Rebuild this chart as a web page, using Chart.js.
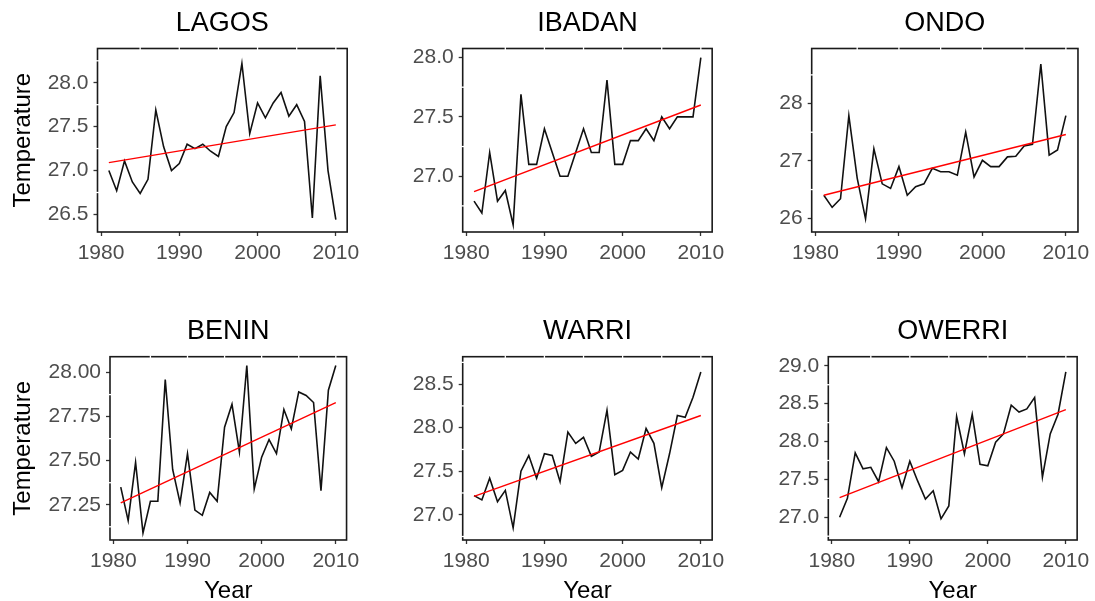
<!DOCTYPE html>
<html><head><meta charset="utf-8">
<script src="https://cdn.jsdelivr.net/npm/chart.js@4.4.1/dist/chart.umd.min.js"></script>
<style>
html,body{margin:0;padding:0;background:#fff;overflow:hidden;width:1095px;height:601px;position:relative}
canvas{position:absolute}
</style></head><body>
<canvas id="c0"></canvas><canvas id="c1"></canvas><canvas id="c2"></canvas>
<canvas id="c3"></canvas><canvas id="c4"></canvas><canvas id="c5"></canvas>
<script>
// ---------------- DATA ----------------
const years = [1981,1982,1983,1984,1985,1986,1987,1988,1989,1990,1991,1992,1993,1994,1995,1996,1997,1998,1999,2000,2001,2002,2003,2004,2005,2006,2007,2008,2009,2010];

const lagos  = [27.00,26.77,27.11,26.87,26.74,26.90,27.69,27.27,27.00,27.08,27.30,27.25,27.30,27.22,27.16,27.50,27.66,28.22,27.42,27.77,27.60,27.77,27.89,27.62,27.75,27.56,26.46,28.08,27.00,26.44];
const ibadan = [26.79,26.69,27.20,26.79,26.88,26.59,27.69,27.10,27.10,27.40,27.20,27.00,27.00,27.20,27.40,27.20,27.20,27.81,27.10,27.10,27.30,27.30,27.40,27.30,27.50,27.40,27.50,27.50,27.50,28.00];
const ondo   = [26.40,26.19,26.34,27.79,26.70,25.99,27.21,26.60,26.52,26.90,26.40,26.55,26.60,26.87,26.81,26.81,26.75,27.50,26.72,27.01,26.90,26.90,27.07,27.08,27.26,27.29,28.69,27.10,27.19,27.79];
const benin  = [27.35,27.16,27.49,27.09,27.27,27.27,27.96,27.45,27.26,27.54,27.22,27.19,27.32,27.27,27.69,27.82,27.55,28.04,27.34,27.52,27.62,27.54,27.79,27.68,27.89,27.87,27.83,27.33,27.90,28.04];
const warri  = [27.22,27.17,27.42,27.15,27.28,26.85,27.50,27.68,27.42,27.70,27.68,27.38,27.95,27.82,27.89,27.67,27.72,28.20,27.46,27.51,27.72,27.64,27.99,27.82,27.31,27.70,28.14,28.12,28.35,28.64];
const owerri = [27.00,27.25,27.85,27.64,27.66,27.47,27.92,27.74,27.39,27.74,27.48,27.24,27.35,26.98,27.15,28.33,27.84,28.36,27.70,27.68,27.99,28.10,28.48,28.39,28.43,28.58,27.53,28.10,28.36,28.92];

// linear trend lines: [value at first year, value at last year]
const trendLagos  = [27.09, 27.52];
const trendIbadan = [26.87, 27.60];
const trendOndo   = [26.40, 27.46];
const trendBenin  = [27.26, 27.83];
const trendWarri  = [27.21, 28.14];
const trendOwerri = [27.26, 28.42];

// tick values and labels
const xTicks = [1980, 1990, 2000, 2010];
const xTickLabels = ['1980', '1990', '2000', '2010'];
const lagosTicks  = [26.5, 27.0, 27.5, 28.0];   const lagosLabels  = ['26.5','27.0','27.5','28.0'];
const ibadanTicks = [27.0, 27.5, 28.0];         const ibadanLabels = ['27.0','27.5','28.0'];
const ondoTicks   = [26, 27, 28];               const ondoLabels   = ['26','27','28'];
const beninTicks  = [27.25, 27.50, 27.75, 28.00]; const beninLabels = ['27.25','27.50','27.75','28.00'];
const warriTicks  = [27.0, 27.5, 28.0, 28.5];   const warriLabels  = ['27.0','27.5','28.0','28.5'];
const owerriTicks = [27.0, 27.5, 28.0, 28.5, 29.0]; const owerriLabels = ['27.0','27.5','28.0','28.5','29.0'];

const stations = ['LAGOS','IBADAN','ONDO','BENIN','WARRI','OWERRI'];
const yTitle = 'Temperature';
const xTitle = 'Year';

// ---------------- LAYOUT ----------------
Chart.defaults.font.family = '"Liberation Sans", Arial, sans-serif';
const colStart = [0, 365, 730];
const rowTop = [0, 295];
const rowH = [290, 315];
const panels = [
  {vals: lagos,  trend: trendLagos,  yt: lagosTicks,  yl: lagosLabels,  ymin: 26.30, ymax: 28.39, L: 97.5,  R: 348.3, T: 48.5,  B: 232,   col: 0, row: 0},
  {vals: ibadan, trend: trendIbadan, yt: ibadanTicks, yl: ibadanLabels, ymin: 26.53, ymax: 28.076, L: 462.7, R: 713.3, T: 48.5, B: 232,   col: 1, row: 0},
  {vals: ondo,   trend: trendOndo,   yt: ondoTicks,   yl: ondoLabels,   ymin: 25.76, ymax: 28.96, L: 811.7, R: 1078.3, T: 48.5,  B: 232,   col: 2, row: 0},
  {vals: benin,  trend: trendBenin,  yt: beninTicks,  yl: beninLabels,  ymin: 27.05, ymax: 28.09, L: 110,   R: 348.3, T: 356.7, B: 540,   col: 0, row: 1},
  {vals: warri,  trend: trendWarri,  yt: warriTicks,  yl: warriLabels,  ymin: 26.71, ymax: 28.815, L: 462.7, R: 713.3, T: 356.7, B: 540,  col: 1, row: 1},
  {vals: owerri, trend: trendOwerri, yt: owerriTicks, yl: owerriLabels, ymin: 26.70, ymax: 29.12, L: 828.3, R: 1078.3, T: 356.7, B: 540,  col: 2, row: 1}
];
const titleCenter = [24, 331.5];
const TITLE_SIZE = 27, TICK_SIZE = 21, AXT_SIZE = 24, RPAD = 16;

const framePlugin = {
  id: 'frame',
  afterDatasetsDraw(chart, args, opts) {
    const {ctx, chartArea: a, scales} = chart;
    ctx.save();
    ctx.strokeStyle = '#1a1a1a';
    ctx.lineWidth = 1.6;
    ctx.strokeRect(a.left, a.top, a.right - a.left, a.bottom - a.top);
    ctx.strokeStyle = '#ffffff';
    ctx.lineWidth = 1.3;
    for (let v = 1985; v <= 2010; v += 5) {
      const x = scales.x.getPixelForValue(v);
      ctx.beginPath(); ctx.moveTo(x, a.top - 1.5); ctx.lineTo(x, a.top + 1.5); ctx.stroke();
    }
    const yt = opts.yt, step = yt[1] - yt[0];
    const minors = yt.map(v => v - step / 2).concat([yt[yt.length - 1] + step / 2]);
    minors.forEach(v => {
      if (v <= scales.y.min || v >= scales.y.max) return;
      const y = scales.y.getPixelForValue(v);
      ctx.beginPath(); ctx.moveTo(a.left - 1.5, y); ctx.lineTo(a.left + 1.5, y); ctx.stroke();
    });
    ctx.restore();
  }
};

panels.forEach((p, i) => {
  const cv = document.getElementById('c' + i);
  const left = colStart[p.col], top = rowTop[p.row];
  const W = Math.ceil(p.R + RPAD - left), H = rowH[p.row];
  cv.width = W; cv.height = H;
  cv.style.left = left + 'px'; cv.style.top = top + 'px';
  cv.style.width = W + 'px'; cv.style.height = H + 'px';
  const yW = p.L - left;
  const xH = top + H - p.B;
  const tPadTop = titleCenter[p.row] - top - TITLE_SIZE / 2;
  const tPadBot = p.T - top - tPadTop - TITLE_SIZE;
  const showYTitle = p.col === 0, showXTitle = p.row === 1;
  new Chart(cv, {
    type: 'line',
    data: {
      datasets: [
        {data: [{x: years[0], y: p.trend[0]}, {x: years[years.length - 1], y: p.trend[1]}],
         borderColor: '#ff0000', borderWidth: 1.4, pointRadius: 0, order: 0},
        {data: years.map((yr, k) => ({x: yr, y: p.vals[k]})),
         borderColor: '#111111', borderWidth: 1.6, pointRadius: 0, tension: 0, order: 1}
      ]
    },
    options: {
      responsive: false, animation: false, events: [],
      layout: {padding: {left: 0, top: 0, bottom: 0, right: W - (p.R - left)}},
      plugins: {
        legend: {display: false}, tooltip: {enabled: false},
        title: {display: true, text: stations[i], fullSize: false, color: '#000',
                font: {size: TITLE_SIZE, weight: 'normal', lineHeight: 1},
                padding: {top: tPadTop, bottom: tPadBot}},
        frame: {yt: p.yt}
      },
      scales: {
        x: {
          type: 'linear', min: 1979.55, max: 2011.45,
          afterBuildTicks: s => { s.ticks = xTicks.map(v => ({value: v})); },
          afterFit: s => { s.height = xH; },
          ticks: {autoSkip: false, maxRotation: 0, padding: 5, color: '#4d4d4d',
                  font: {size: TICK_SIZE}, callback: (v, idx) => xTickLabels[idx]},
          grid: {drawOnChartArea: false, drawTicks: true, tickLength: 4, tickColor: '#333', tickWidth: 1.3},
          border: {display: false},
          title: {display: showXTitle, text: xTitle, color: '#000',
                  font: {size: AXT_SIZE, lineHeight: 1}, padding: {top: 0, bottom: (top + H) - 591 - AXT_SIZE / 2}}
        },
        y: {
          type: 'linear', min: p.ymin, max: p.ymax,
          afterBuildTicks: s => { s.ticks = p.yt.map(v => ({value: v})); },
          afterFit: s => { s.width = yW; },
          ticks: {autoSkip: false, padding: 5, color: '#4d4d4d',
                  font: {size: TICK_SIZE}, callback: (v, idx) => p.yl[idx]},
          grid: {drawOnChartArea: false, drawTicks: true, tickLength: 4, tickColor: '#333', tickWidth: 1.3},
          border: {display: false},
          title: {display: showYTitle, text: yTitle, color: '#000',
                  font: {size: AXT_SIZE, lineHeight: 1}, padding: {top: 11, bottom: 0}}
        }
      }
    },
    plugins: [framePlugin]
  });
});
</script>
</body></html>
